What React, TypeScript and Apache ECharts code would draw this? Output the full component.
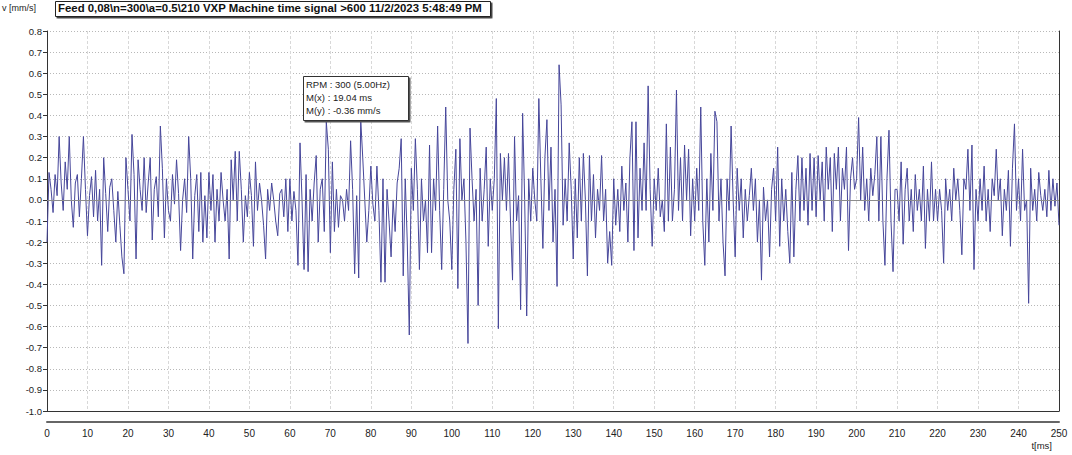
import React, { useEffect, useRef } from "react";
import * as echarts from "echarts";

// Sampling step of the time signal (ms)
const SAMPLE_MS = 0.5;

// Velocity values v [mm/s], read every 0.5 ms, in 10 ms blocks
const seg00 = [-0.2, 0.13, 0.05, -0.06, 0.12, 0.02, 0.3, 0.08, -0.05, 0.18, 0.05, 0.3, 0.0, -0.13, 0.08, 0.12, -0.08, 0.1, 0.3, 0.05];
const seg01 = [-0.17, 0.02, 0.11, -0.08, 0.14, -0.1, 0.05, -0.31, 0.2, 0.03, -0.15, 0.06, 0.1, -0.05, -0.2, 0.04, -0.12, -0.27, -0.35, 0.2];
const seg02 = [0.05, -0.1, 0.31, 0.12, -0.28, 0.19, 0.05, -0.05, 0.2, -0.06, 0.08, 0.2, -0.19, 0.05, 0.11, -0.08, 0.35, 0.15, -0.18, 0.1];
const seg03 = [-0.05, -0.1, 0.12, -0.02, 0.19, 0.03, -0.24, 0.0, 0.1, -0.06, 0.3, 0.1, -0.28, 0.02, 0.12, -0.15, 0.13, -0.2, 0.02, -0.18];
const seg04 = [0.13, -0.05, 0.12, -0.2, 0.05, -0.1, 0.13, 0.0, -0.1, 0.05, -0.28, 0.19, 0.0, 0.23, -0.1, 0.23, 0.05, -0.2, 0.02, -0.08];
const seg05 = [0.13, 0.02, -0.22, 0.18, -0.05, 0.08, 0.0, -0.12, -0.28, 0.05, -0.05, 0.08, 0.0, -0.1, -0.17, 0.03, 0.05, -0.08, 0.1, -0.15];
const seg06 = [0.1, -0.1, 0.04, -0.05, -0.31, 0.27, 0.0, -0.33, 0.12, -0.34, 0.05, -0.1, 0.08, 0.21, -0.2, 0.05, 0.1, -0.15, 0.37, 0.24];
const seg07 = [-0.25, 0.18, -0.15, 0.05, -0.13, 0.02, 0.0, -0.1, 0.05, -0.05, 0.28, 0.05, -0.35, 0.02, -0.37, 0.38, 0.2, 0.0, -0.2, -0.05];
const seg08 = [0.16, -0.02, -0.1, 0.16, -0.05, -0.39, 0.1, -0.39, 0.05, -0.1, -0.27, 0.0, -0.15, 0.08, 0.15, 0.29, -0.36, 0.1, -0.2, -0.64];
const seg09 = [0.15, -0.05, 0.29, 0.05, -0.33, 0.1, -0.1, 0.0, -0.25, 0.26, -0.25, 0.1, -0.05, 0.35, -0.05, -0.33, 0.05, 0.44, 0.0, -0.1];
const seg10 = [-0.33, 0.05, 0.24, -0.42, 0.29, 0.0, 0.1, -0.2, -0.68, 0.34, 0.1, -0.1, 0.05, -0.5, 0.15, -0.1, 0.05, 0.25, -0.22, 0.1];
const seg11 = [-0.05, 0.1, 0.48, -0.61, 0.22, 0.0, 0.2, -0.05, 0.22, -0.1, -0.38, 0.3, -0.1, 0.02, -0.52, 0.41, 0.0, -0.55, 0.1, -0.1];
const seg12 = [0.15, 0.0, -0.1, 0.48, 0.1, -0.23, 0.2, 0.38, -0.05, 0.25, -0.2, 0.05, -0.41, 0.64, 0.45, -0.12, 0.1, -0.1, 0.27, 0.05];
const seg13 = [-0.28, 0.1, -0.18, 0.2, -0.1, 0.22, 0.0, -0.36, 0.21, -0.1, 0.12, -0.18, 0.05, -0.05, 0.21, -0.1, 0.05, -0.3, -0.15, -0.31];
const seg14 = [0.1, -0.12, 0.05, -0.15, 0.16, -0.05, 0.08, -0.2, 0.2, 0.37, -0.24, 0.37, -0.18, 0.15, -0.05, 0.27, -0.05, 0.54, 0.05, -0.22];
const seg15 = [0.1, -0.05, 0.15, -0.08, 0.0, -0.15, 0.36, -0.1, 0.25, -0.1, 0.05, 0.52, -0.05, 0.2, -0.1, 0.26, 0.0, 0.24, -0.17, 0.1];
const seg16 = [-0.1, 0.15, -0.05, 0.44, -0.1, -0.31, 0.1, -0.2, 0.22, -0.05, 0.42, 0.37, -0.1, 0.1, -0.2, -0.36, 0.1, -0.05, 0.35, 0.0];
const seg17 = [-0.27, 0.15, -0.05, 0.1, -0.18, 0.05, -0.1, 0.02, 0.15, -0.05, 0.1, -0.2, 0.0, -0.38, 0.06, -0.1, 0.0, -0.27, 0.05, 0.15];
const seg18 = [-0.1, 0.25, -0.22, 0.1, -0.1, 0.05, -0.15, -0.3, 0.13, -0.27, 0.05, 0.21, -0.1, 0.2, -0.05, 0.15, -0.12, 0.22, -0.05, 0.2];
const seg19 = [-0.08, 0.21, 0.0, 0.18, -0.1, 0.25, 0.05, 0.2, -0.15, 0.22, 0.05, 0.25, -0.1, 0.15, 0.05, 0.25, -0.24, 0.1, 0.2, 0.05];
const seg20 = [0.1, 0.39, 0.0, 0.25, -0.05, 0.1, -0.1, 0.15, 0.02, 0.12, 0.3, -0.1, 0.3, -0.1, -0.31, 0.1, 0.33, -0.1, -0.34, 0.05];
const seg21 = [0.05, -0.1, 0.18, -0.21, 0.05, 0.15, -0.1, 0.05, -0.15, 0.12, -0.05, 0.05, -0.1, 0.16, -0.23, 0.05, -0.1, 0.18, -0.1, 0.05];
const seg22 = [-0.1, 0.05, -0.05, -0.3, 0.1, -0.05, 0.05, -0.1, 0.15, 0.0, 0.1, -0.05, -0.26, 0.1, 0.05, 0.24, -0.05, 0.26, -0.33, 0.05];
const seg23 = [-0.1, 0.1, -0.05, 0.16, -0.1, 0.05, -0.15, 0.1, 0.02, 0.24, 0.0, 0.1, -0.17, 0.05, -0.05, 0.14, -0.22, 0.15, 0.36, -0.05];
const seg24 = [0.1, -0.1, 0.24, -0.05, 0.0, -0.49, 0.15, -0.05, 0.05, -0.1, 0.13, 0.02, -0.05, 0.05, -0.08, 0.14, -0.05, 0.1, -0.03, 0.08];
const segEnd = [-0.12];

const velocity = [
  ...seg00, ...seg01, ...seg02, ...seg03, ...seg04, ...seg05, ...seg06, ...seg07,
  ...seg08, ...seg09, ...seg10, ...seg11, ...seg12, ...seg13, ...seg14, ...seg15,
  ...seg16, ...seg17, ...seg18, ...seg19, ...seg20, ...seg21, ...seg22, ...seg23,
  ...seg24, ...segEnd,
];

const TITLE = "Feed 0,08\\n=300\\a=0.5\\210 VXP Machine time signal >600 11/2/2023 5:48:49 PM";
const Y_UNIT = "v [mm/s]";
const X_UNIT = "t[ms]";
const INFO_LINES = ["RPM : 300 (5.00Hz)", "M(x) : 19.04 ms", "M(y) : -0.36 mm/s"];

const X_MIN = 0;
const X_MAX = 250;
const X_STEP = 10;
const Y_MIN = -1.0;
const Y_MAX = 0.8;
const Y_STEP = 0.1;

const FONT = "Liberation Sans, Arial, sans-serif";

export default function App() {
  const ref = useRef<HTMLDivElement>(null);

  useEffect(() => {
    if (!ref.current) return;
    const chart = echarts.init(ref.current, null, { renderer: "svg" });
    const data = velocity.map((v, i) => [i * SAMPLE_MS, v]);

    const yFmt = (v: number) => {
      const s = (Math.round(v * 10) / 10).toFixed(1);
      return s === "-0.0" ? "0.0" : s;
    };

    chart.setOption({
      animation: false,
      backgroundColor: "#ffffff",
      grid: { left: 47, right: 13, top: 31, bottom: 44, containLabel: false },
      xAxis: [
        {
          type: "value",
          min: X_MIN,
          max: X_MAX,
          interval: X_STEP,
          position: "bottom",
          axisLine: { show: true, onZero: false, lineStyle: { color: "#333", width: 1 } },
          axisTick: { show: false },
          axisLabel: { show: false },
          splitLine: { show: true, lineStyle: { color: "#d8d8d8", type: [3, 2], width: 1 } },
        },
        {
          type: "value",
          min: X_MIN,
          max: X_MAX,
          interval: X_STEP,
          position: "bottom",
          offset: 11,
          axisLine: { show: true, onZero: false, lineStyle: { color: "#666", width: 2 } },
          axisTick: { show: false },
          axisLabel: {
            show: true,
            fontFamily: FONT,
            fontSize: 10,
            color: "#222",
            margin: 6,
          },
          splitLine: { show: false },
        },
      ],
      yAxis: [
        {
          type: "value",
          min: Y_MIN,
          max: Y_MAX,
          interval: Y_STEP,
          position: "left",
          axisLine: { show: true, onZero: false, lineStyle: { color: "#333", width: 1 } },
          axisTick: { show: true, length: 4, lineStyle: { color: "#333" } },
          axisLabel: {
            show: true,
            fontFamily: FONT,
            fontSize: 9.5,
            color: "#222",
            margin: 5,
            formatter: yFmt,
          },
          splitLine: { show: true, lineStyle: { color: "#b8b8b8", type: [1, 2], width: 1 } },
        },
        {
          type: "value",
          min: Y_MIN,
          max: Y_MAX,
          interval: Y_STEP,
          position: "right",
          axisLine: { show: true, onZero: false, lineStyle: { color: "#333", width: 1 } },
          axisTick: { show: false },
          axisLabel: { show: false },
          splitLine: { show: false },
        },
      ],
      series: [
        {
          type: "line",
          xAxisIndex: 0,
          yAxisIndex: 0,
          data,
          showSymbol: false,
          symbol: "none",
          silent: true,
          lineStyle: { color: "#46469a", width: 1 },
          markLine: {
            silent: true,
            symbol: "none",
            label: { show: false },
            lineStyle: { color: "#8c8c8c", type: "solid", width: 1 },
            data: [{ yAxis: 0 }],
          },
          z: 3,
        },
      ],
      graphic: [
        {
          type: "text",
          left: 2,
          top: 3,
          style: { text: Y_UNIT, font: `9px ${FONT}`, fill: "#222" },
        },
        {
          type: "rect",
          left: 55,
          top: 1,
          shape: { width: 435, height: 15 },
          style: { fill: "#fff", stroke: "#222", lineWidth: 1, shadowColor: "#444", shadowOffsetX: 1.5, shadowOffsetY: 1.5 },
          z: 10,
        },
        {
          type: "text",
          left: 58,
          top: 2,
          style: { text: TITLE, font: `bold 11.4px ${FONT}`, fill: "#111" },
          z: 11,
        },
        {
          type: "rect",
          left: 303,
          top: 76,
          shape: { width: 105, height: 44 },
          style: { fill: "#fff", stroke: "#333", lineWidth: 1, shadowColor: "#555", shadowOffsetX: 1.5, shadowOffsetY: 1.5 },
          z: 10,
        },
        {
          type: "text",
          left: 306,
          top: 78,
          style: { text: INFO_LINES.join("\n"), font: `9.5px ${FONT}`, lineHeight: 13, fill: "#222" },
          z: 11,
        },
        {
          type: "text",
          right: 20,
          top: 440,
          style: { text: X_UNIT, font: `9.5px ${FONT}`, fill: "#222" },
        },
      ],
    });

    return () => chart.dispose();
  }, []);

  return (
    <div
      ref={ref}
      style={{ position: "absolute", left: 0, top: 0, width: 1072, height: 455, background: "#fff" }}
    />
  );
}
